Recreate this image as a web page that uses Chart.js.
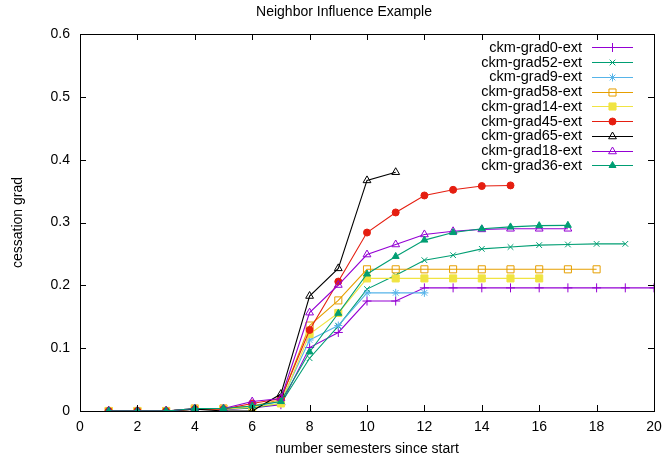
<!DOCTYPE html>
<html>
<head>
<meta charset="utf-8">
<script src="https://cdn.jsdelivr.net/npm/chart.js@4.4.1/dist/chart.umd.min.js"></script>
<style>
  html, body { margin: 0; padding: 0; background: #fff; }
  #c { display: block; }
</style>
</head>
<body>
<canvas id="c" width="662" height="459"></canvas>
<script>
// Series values, one per semester starting at semester 1
const labels = ['ckm-grad0-ext', 'ckm-grad52-ext', 'ckm-grad9-ext', 'ckm-grad58-ext', 'ckm-grad14-ext',
                'ckm-grad45-ext', 'ckm-grad65-ext', 'ckm-grad18-ext', 'ckm-grad36-ext'];
const grad0  = [0, 0, 0, 0.003, 0.002, 0.005, 0.010, 0.101, 0.125, 0.175, 0.175, 0.196, 0.196, 0.196, 0.196, 0.196, 0.196, 0.196, 0.196, 0.196];
const grad52 = [0, 0, 0, 0.003, 0.003, 0.005, 0.012, 0.084, 0.135, 0.194, 0.216, 0.240, 0.248, 0.258, 0.261, 0.264, 0.265, 0.266, 0.266];
const grad9  = [0, 0, 0, 0.003, 0.003, 0.007, 0.015, 0.113, 0.136, 0.188, 0.188, 0.188];
const grad58 = [0, 0, 0, 0.004, 0.004, 0.008, 0.018, 0.136, 0.176, 0.2255, 0.2255, 0.2255, 0.2255, 0.2255, 0.2255, 0.2255, 0.2255, 0.2255];
const grad14 = [0, 0, 0, 0.003, 0.003, 0.006, 0.012, 0.1225, 0.156, 0.211, 0.211, 0.211, 0.211, 0.211, 0.211, 0.211];
const grad45 = [0, 0, 0, 0.003, 0.003, 0.012, 0.020, 0.129, 0.206, 0.284, 0.316, 0.343, 0.352, 0.358, 0.359];
const grad65 = [0, 0, 0, 0.003, 0, 0, 0.027, 0.183, 0.227, 0.367, 0.380];
const grad18 = [0, 0, 0, 0.004, 0.004, 0.015, 0.020, 0.1565, 0.2005, 0.249, 0.265, 0.281, 0.286, 0.289, 0.290, 0.290, 0.290];
const grad36 = [0, 0, 0, 0.004, 0.004, 0.008, 0.015, 0.094, 0.1555, 0.218, 0.246, 0.272, 0.284, 0.290, 0.293, 0.295, 0.2955];
const xTicks = [0, 2, 4, 6, 8, 10, 12, 14, 16, 18, 20];
const yTicks = [0, 0.1, 0.2, 0.3, 0.4, 0.5, 0.6];

const seriesValues = [grad0, grad52, grad9, grad58, grad14, grad45, grad65, grad18, grad36];
const colors = ['#9400d3', '#009e73', '#56b4e9', '#e69f00', '#f0e442', '#e51e10', '#000000', '#9400d3', '#009e73'];
const markers = [
  { style: 'cross',    r: 4.5, fill: false },
  { style: 'crossRot', r: 4,   fill: false },
  { style: 'star',     r: 4,   fill: false },
  { style: 'rect',     r: 5,   fill: false },
  { style: 'rect',     r: 5,   fill: true  },
  { style: 'circle',   r: 3.5, fill: true  },
  { style: 'triangle', r: 4.5, fill: false },
  { style: 'triangle', r: 4.5, fill: false },
  { style: 'triangle', r: 4,   fill: true  }
];

const FONT = 'Liberation Sans, Arial, sans-serif';
Chart.defaults.color = '#000';
Chart.defaults.font.family = FONT;
Chart.defaults.font.size = 14;

const datasets = seriesValues.map((vals, i) => ({
  label: labels[i],
  data: vals.map((v, k) => ({ x: k + 1, y: v })),
  borderColor: colors[i],
  backgroundColor: markers[i].fill ? colors[i] : 'rgba(0,0,0,0)',
  pointBorderColor: colors[i],
  pointBackgroundColor: markers[i].fill ? colors[i] : 'rgba(0,0,0,0)',
  pointStyle: markers[i].style,
  pointRadius: markers[i].r,
  pointBorderWidth: 1,
  borderWidth: 1.1,
  tension: 0,
  fill: false,
  order: seriesValues.length - i
}));

// Plot title
const titlePlugin = {
  id: 'plotTitle',
  afterDraw(chart) {
    const ctx = chart.ctx;
    ctx.save();
    ctx.fillStyle = '#000';
    ctx.font = '14px ' + FONT;
    ctx.textAlign = 'center';
    ctx.textBaseline = 'middle';
    ctx.fillText('Neighbor Influence Example', 344, 12);
    ctx.restore();
  }
};

// Frame with inward tick marks on all four sides
const framePlugin = {
  id: 'frame',
  afterDatasetsDraw(chart) {
    const { ctx, chartArea: a, scales } = chart;
    const len = 6;
    ctx.save();
    ctx.strokeStyle = '#000';
    ctx.lineWidth = 1;
    ctx.beginPath();
    scales.x.ticks.forEach(t => {
      const px = Math.round(scales.x.getPixelForValue(t.value)) + 0.5;
      ctx.moveTo(px, a.bottom); ctx.lineTo(px, a.bottom - len);
      ctx.moveTo(px, a.top); ctx.lineTo(px, a.top + len);
    });
    scales.y.ticks.forEach(t => {
      const py = Math.round(scales.y.getPixelForValue(t.value)) + 0.5;
      ctx.moveTo(a.left, py); ctx.lineTo(a.left + len, py);
      ctx.moveTo(a.right, py); ctx.lineTo(a.right - len, py);
    });
    ctx.stroke();
    ctx.strokeRect(Math.round(a.left) + 0.5, Math.round(a.top) + 0.5,
                   Math.round(a.right - a.left), Math.round(a.bottom - a.top));
    ctx.restore();
  }
};

// Key in the top-right corner: label, line sample and marker
const keyPlugin = {
  id: 'key',
  afterDraw(chart) {
    const ctx = chart.ctx;
    const textRight = 582, lineL = 592, lineR = 633, rowTop = 47.3, rowStep = 14.75;
    ctx.save();
    ctx.font = '14.5px ' + FONT;
    ctx.textAlign = 'right';
    ctx.textBaseline = 'middle';
    chart.data.datasets.forEach((ds, i) => {
      const y = rowTop + i * rowStep;
      ctx.fillStyle = '#000';
      ctx.fillText(ds.label, textRight, y + 0.5);
      ctx.strokeStyle = ds.borderColor;
      ctx.lineWidth = 1.1;
      ctx.beginPath();
      ctx.moveTo(lineL, Math.round(y) + 0.5);
      ctx.lineTo(lineR, Math.round(y) + 0.5);
      ctx.stroke();
      ctx.fillStyle = ds.pointBackgroundColor;
      ctx.strokeStyle = ds.pointBorderColor;
      ctx.lineWidth = 1;
      Chart.helpers.drawPoint(ctx, {
        pointStyle: ds.pointStyle, radius: ds.pointRadius, rotation: 0, borderWidth: 1
      }, (lineL + lineR) / 2, Math.round(y) + 0.5);
    });
    ctx.restore();
  }
};

new Chart(document.getElementById('c'), {
  type: 'line',
  data: { datasets },
  options: {
    responsive: false,
    animation: false,
    events: [],
    layout: { padding: { top: 34, right: 8, left: 0, bottom: 0 } },
    plugins: { legend: { display: false }, title: { display: false }, tooltip: { enabled: false } },
    scales: {
      x: {
        type: 'linear',
        min: 0, max: 20,
        afterBuildTicks(scale) { scale.ticks = xTicks.map(v => ({ value: v })); },
        afterFit(scale) { scale.height = 48; scale.paddingLeft = 0; scale.paddingRight = 0; },
        grid: { display: false, drawTicks: false },
        border: { display: false },
        ticks: { padding: 8, maxRotation: 0, autoSkip: false, color: '#000', font: { size: 14 } },
        title: { display: true, text: 'number semesters since start', color: '#000',
                 font: { size: 14 }, padding: { top: 1, bottom: 1 } }
      },
      y: {
        type: 'linear',
        min: 0, max: 0.6,
        afterBuildTicks(scale) { scale.ticks = yTicks.map(v => ({ value: v })); },
        afterFit(scale) { scale.width = 80; scale.paddingTop = 0; scale.paddingBottom = 0; },
        grid: { display: false, drawTicks: false },
        border: { display: false },
        ticks: { padding: 10, autoSkip: false, color: '#000', font: { size: 14 },
                 callback: v => String(Math.round(v * 10) / 10) },
        title: { display: true, text: 'cessation grad', color: '#000',
                 font: { size: 14 }, padding: { top: 10, bottom: 10 } }
      }
    }
  },
  plugins: [titlePlugin, framePlugin, keyPlugin]
});
</script>
</body>
</html>
